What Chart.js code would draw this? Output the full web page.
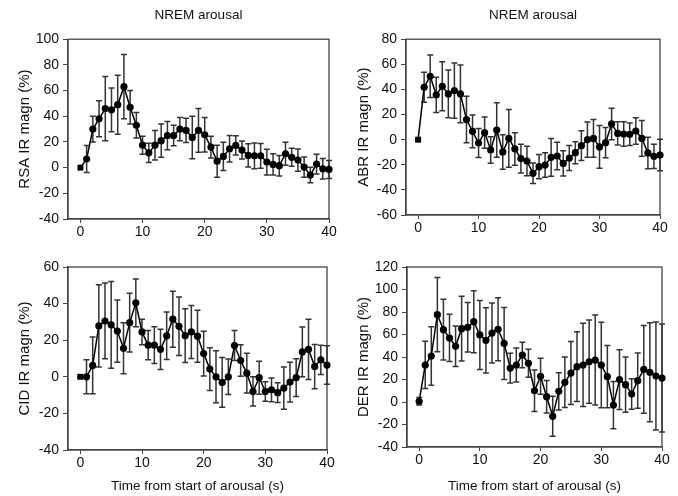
<!DOCTYPE html>
<html>
<head>
<meta charset="utf-8">
<script src="https://cdn.jsdelivr.net/npm/chart.js@4.4.0/dist/chart.umd.min.js"></script>
<style>
body{margin:0;background:#fff;}
canvas{position:absolute;}
</style>
</head>
<body>
<canvas id="rsa" width="339" height="248" style="left:0;top:0"></canvas>
<canvas id="abr" width="339" height="248" style="left:339px;top:0"></canvas>
<canvas id="cid" width="339" height="248" style="left:0;top:248px"></canvas>
<canvas id="der" width="339" height="248" style="left:339px;top:248px"></canvas>
<script>
// seconds after arousal onset
const seconds = [0,1,2,3,4,5,6,7,8,9,10,11,12,13,14,15,16,17,18,19,20,
  21,22,23,24,25,26,27,28,29,30,31,32,33,34,35,36,37,38,39,40];
const xTicks = [0,10,20,30,40];

// mean IR magnitude (%) and error (+/-) per second
const rsaMean = [0,6.7,30,38,46,45,49,63,47,33,17.5,11.5,17.5,21,25,25,30,29,23.5,29,25.6,
  16,5,8.7,14.7,17.3,13.7,9.5,9.2,9.2,4.3,2.5,1.5,10.8,8,5.9,0.4,-5.8,2.8,-0.9,-1.4];
const rsaErr = [0,10.5,10,14,25,17,23,25,13,10,7,7.5,11.5,13,11,8,9,9.5,16.5,17,13.5,
  8.5,12.5,11,10.3,7.5,7,9,10,9.6,10,8.3,8,9,7,8.7,7.8,6,7.7,8,7];

const abrMean = [0,41.7,50.5,35.6,42.5,36.4,39,36.4,16,6.6,-2.7,5.6,-8.2,7.7,-9.8,1,-7.4,-15.1,-17,-26.8,-21.5,
  -20.2,-14.1,-13,-18.9,-14.6,-10.4,-4.8,0,1,-5.8,-2.4,12.5,5,4.5,4.3,6.9,1,-10.6,-13.3,-12.2];
const abrErr = [1,12,17,14,19.5,19,22,23,18.5,13,11.5,12.5,10.5,21.7,13.7,23,13,11.5,11.7,8.2,9.7,
  9.8,15,11,10,10,8.7,11.8,14,15,17,12,12.5,9.3,9.8,9,10.6,14.3,12.5,9.7,12.5];

const cidMean = [0,0,6.2,27.8,30.5,28.4,25,15.6,29.6,40.4,24.5,17.3,17.3,15,22.4,31.5,27.6,22.5,24.5,22.2,12.7,
  4.2,0,-3.1,0,17.1,8.9,2,-8,-0.5,-8,-7.1,-8.7,-6.2,-2.9,-0.5,13.6,15,5.6,9.3,6.4];
const cidErr = [0.4,9.3,15.5,22.5,20.7,23.7,17,14,16,13,7,8,10,11,13,15.3,16,14.7,14.5,14.2,12.2,
  11.7,14.2,13.6,9.7,8.2,8.6,10.9,8,9,5.3,6.5,5.4,11.5,10.9,10.3,13.6,16.5,12.1,8,10.5];

const derMean = [0.6,32.9,40.9,77.6,64.3,56.9,49.5,65.2,66.4,71.4,59.6,54.8,61.3,64.6,52.1,30.2,32.9,41.8,34.4,10,22.8,
  4.7,-12.7,9.5,17.5,25.8,31.4,32.9,35.8,37.3,32.9,22.5,-2.7,19.9,15.4,7.1,19,29,26.4,23.1,21.3];
const derErr = [3.3,21,26,33,27,21,18,28.7,22,27.6,30.6,29,26.6,28,32,13.2,15.2,11.3,12.5,18.5,16,
  14.4,17.8,16.6,22.4,28,31,37,37,40,38,27.7,21,26.5,24.5,13.5,24.5,39,44,48,48];

Chart.defaults.font.family = '"Liberation Sans", Arial, sans-serif';
Chart.defaults.color = '#111';

const axisColor = '#444';

// vertical error bars with caps, under the line and markers
const errorBars = {
  id: 'errorBars',
  beforeDatasetsDraw(chart) {
    const {ctx, scales: {x, y}} = chart;
    chart.data.datasets.forEach(ds => {
      if (!ds.errors) return;
      ctx.save();
      ctx.strokeStyle = '#333';
      ctx.lineWidth = 1.5;
      ds.data.forEach((p, i) => {
        const e = ds.errors[i];
        if (!e) return;
        const px = x.getPixelForValue(p.x);
        const top = y.getPixelForValue(p.y + e);
        const bot = y.getPixelForValue(p.y - e);
        ctx.beginPath();
        ctx.moveTo(px, top); ctx.lineTo(px, bot);
        ctx.moveTo(px - 3, top); ctx.lineTo(px + 3, top);
        ctx.moveTo(px - 3, bot); ctx.lineTo(px + 3, bot);
        ctx.stroke();
      });
      ctx.restore();
    });
  }
};

// box around the plot area
const frame = {
  id: 'frame',
  beforeDatasetsDraw(chart) {
    const {ctx, chartArea: a} = chart;
    ctx.save();
    ctx.strokeStyle = axisColor;
    ctx.lineWidth = 1.3;
    ctx.strokeRect(a.left, a.top, a.right - a.left, a.bottom - a.top);
    ctx.restore();
  }
};

function makePanel(id, p) {
  const pts = seconds.map((s, i) => ({x: s, y: p.mean[i]}));
  return new Chart(document.getElementById(id), {
    type: 'scatter',
    data: {
      datasets: [{
        data: pts,
        errors: p.err,
        showLine: true,
        borderColor: '#000',
        borderWidth: 1.5,
        backgroundColor: '#000',
        pointBackgroundColor: '#000',
        pointBorderWidth: 0,
        pointStyle: ctx => (ctx.dataIndex === 0 && p.squareStart ? 'rect' : 'circle'),
        pointRadius: ctx => (ctx.dataIndex === 0 && p.squareStart ? 4.2 : 3.6),
        clip: false
      }]
    },
    options: {
      responsive: false,
      animation: false,
      layout: {padding: p.pad},
      plugins: {
        legend: {display: false},
        tooltip: {enabled: false},
        title: {
          display: !!p.title,
          text: p.title,
          fullSize: false,
          font: {size: 13.5, weight: 'normal'},
          color: '#111',
          padding: {top: 7, bottom: 16}
        }
      },
      scales: {
        x: {
          type: 'linear',
          min: -2,
          max: 40,
          afterBuildTicks: s => { s.ticks = xTicks.map(v => ({value: v})); },
          afterFit: s => { s.height = p.xh; },
          ticks: {font: {size: 14}, padding: 1, color: '#111'},
          grid: {drawOnChartArea: false, tickLength: 4, color: axisColor},
          border: {color: axisColor, width: 1.3},
          title: {
            display: !!p.xTitle,
            text: p.xTitle,
            font: {size: 13.5},
            color: '#111',
            padding: {top: 0, bottom: 2}
          }
        },
        y: {
          min: p.min,
          max: p.max,
          afterFit: s => { s.width = p.yw; },
          ticks: {stepSize: 20, font: {size: 14}, padding: 4, color: '#111'},
          grid: {drawOnChartArea: false, tickLength: 5, color: axisColor},
          border: {color: axisColor, width: 1.3},
          title: {
            display: true,
            text: p.yTitle,
            font: {size: 15},
            color: '#111',
            padding: {top: 16, bottom: 0}
          }
        }
      }
    },
    plugins: [frame, errorBars]
  });
}

makePanel('rsa', {
  mean: rsaMean, err: rsaErr, min: -40, max: 100, squareStart: true,
  title: 'NREM arousal', yTitle: 'RSA IR magn (%)',
  yw: 68, xh: 28, pad: {left: 0, right: 10, top: 0, bottom: 1}
});
makePanel('abr', {
  mean: abrMean, err: abrErr, min: -60, max: 80, squareStart: true,
  title: 'NREM arousal', yTitle: 'ABR IR magn (%)',
  yw: 67, xh: 28, pad: {left: 0, right: 18, top: 0, bottom: 5}
});
makePanel('cid', {
  mean: cidMean, err: cidErr, min: -40, max: 60, squareStart: true,
  yTitle: 'CID IR magn (%)', xTitle: 'Time from start of arousal (s)',
  yw: 68, xh: 46, pad: {left: 0, right: 12, top: 19, bottom: 0}
});
makePanel('der', {
  mean: derMean, err: derErr, min: -40, max: 120, squareStart: false,
  yTitle: 'DER IR magn (%)', xTitle: 'Time from start of arousal (s)',
  yw: 68, xh: 49, pad: {left: 0, right: 16, top: 19, bottom: 0}
});
</script>
</body>
</html>
